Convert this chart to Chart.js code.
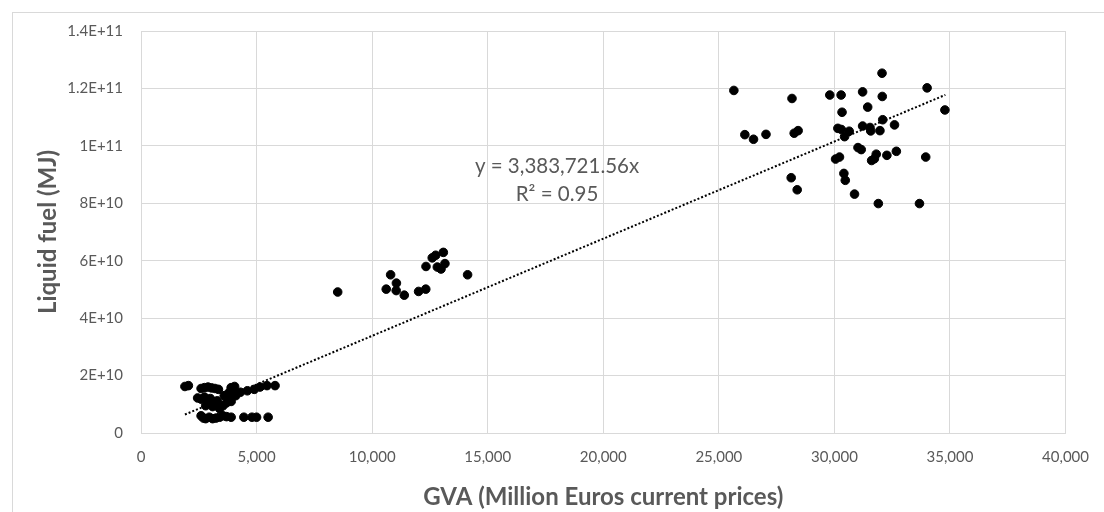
<!DOCTYPE html>
<html>
<head>
<meta charset="utf-8">
<script src="https://cdn.jsdelivr.net/npm/chart.js@4"></script>
<style>
  html, body { margin: 0; padding: 0; background: #fff; }
  #frame {
    position: absolute; left: 12px; top: 12px; width: 1100px; height: 510px;
    border: 1px solid #d9d9d9; box-sizing: border-box;
  }
  #wrap { position: absolute; left: 0; top: 0; width: 1104px; height: 512px; }
</style>
</head>
<body>
<div id="frame"></div>
<div id="wrap"><canvas id="chart"></canvas></div>
<script>
// GVA (million euros) and liquid fuel (MJ)
const gvaLow = [1900, 2050, 2600, 2750, 2900, 3050, 3200, 3350, 3900, 4050,
    2450, 2600, 2750, 3000, 3600, 3800, 4000, 4300, 4600, 4900, 5150, 5450, 5800, 3800, 4100,
    2800, 2950, 3100, 3250, 3400, 3550, 3700, 3900, 3300,
    2600, 2700, 2800, 2950, 3100, 3250, 3400, 3550, 3700, 3900, 4450, 4800, 5000, 5500];
const fuelLow = [1.62e10, 1.65e10, 1.55e10, 1.58e10, 1.6e10, 1.57e10, 1.55e10, 1.52e10, 1.58e10, 1.62e10,
    1.22e10, 1.18e10, 1.25e10, 1.2e10, 1.3e10, 1.4e10, 1.45e10, 1.42e10, 1.47e10, 1.52e10, 1.6e10, 1.65e10, 1.65e10, 1.2e10, 1.3e10,
    0.95e10, 1.05e10, 0.92e10, 1.0e10, 0.85e10, 0.95e10, 1.05e10, 1.1e10, 1.12e10,
    0.6e10, 0.52e10, 0.5e10, 0.55e10, 0.5e10, 0.52e10, 0.55e10, 0.6e10, 0.57e10, 0.55e10, 0.55e10, 0.55e10, 0.55e10, 0.55e10];

const gvaMid = [8510, 10800, 11050, 10610, 11040, 11390, 12010, 12320, 12330, 12600, 12750, 13080, 12820, 12980, 13150, 14130];
const fuelMid = [4.91e10, 5.51e10, 5.22e10, 5.01e10, 4.96e10, 4.80e10, 4.93e10, 5.01e10, 5.80e10, 6.10e10, 6.19e10, 6.29e10, 5.78e10, 5.71e10, 5.90e10, 5.51e10];

const gvaHigh = [25650, 28165, 26125, 26500, 27040, 28260, 28430, 28130, 28390,
    32060, 34010, 29800, 30290, 31220, 32070, 31440, 30330, 34780, 32090, 32600,
    30150, 30300, 30640, 30440, 31220, 31540, 31570, 31970, 31020, 31160, 30050,
    30220, 31810, 31610, 31730, 32270, 32680, 33950, 30410, 30470, 30870, 31900, 33680];
const fuelHigh = [11.93e10, 11.65e10, 10.39e10, 10.23e10, 10.40e10, 10.44e10, 10.53e10, 8.89e10, 8.47e10,
    12.53e10, 12.02e10, 11.77e10, 11.77e10, 11.88e10, 11.72e10, 11.35e10, 11.17e10, 11.25e10, 10.91e10, 10.73e10,
    10.61e10, 10.57e10, 10.51e10, 10.32e10, 10.69e10, 10.64e10, 10.52e10, 10.53e10, 9.94e10, 9.87e10, 9.54e10,
    9.61e10, 9.71e10, 9.49e10, 9.55e10, 9.67e10, 9.81e10, 9.61e10, 9.04e10, 8.80e10, 8.32e10, 7.99e10, 7.99e10];

// linear trendline through the origin, as printed on the chart
const trendSlope = 3383721.56;
const trendRange = [1900, 34800];
const trendLabel = ['y = 3,383,721.56x', 'R² = 0.95'];

const yTickLabels = ['0', '2E+10', '4E+10', '6E+10', '8E+10', '1E+11', '1.2E+11', '1.4E+11'];

const gva = gvaLow.concat(gvaMid, gvaHigh);
const fuel = fuelLow.concat(fuelMid, fuelHigh);

const textColor = '#595959';
const gridColor = '#d9d9d9';

// draws the trendline equation text
const equationPlugin = {
    id: 'equation',
    afterDatasetsDraw(chart) {
        const ctx = chart.ctx;
        const x = chart.scales.x.getPixelForValue(18000);
        const y = chart.scales.y.getPixelForValue(9.28e10);
        ctx.save();
        ctx.fillStyle = textColor;
        ctx.font = '20.5px Lato';
        ctx.textAlign = 'center';
        ctx.textBaseline = 'middle';
        ctx.fillText(trendLabel[0], x, y);
        ctx.fillText(trendLabel[1], x, y + 28);
        ctx.restore();
    }
};

new Chart(document.getElementById('chart'), {
    type: 'scatter',
    data: {
        datasets: [
            {
                label: 'Liquid fuel',
                data: gva.map((g, i) => ({ x: g, y: fuel[i] })),
                backgroundColor: '#000',
                borderColor: '#000',
                pointRadius: 4.3,
                pointHoverRadius: 4.3,
                order: 2
            },
            {
                label: 'Trend',
                type: 'line',
                data: trendRange.map(g => ({ x: g, y: g * trendSlope })),
                borderColor: '#000',
                borderWidth: 2,
                borderDash: [2, 2],
                pointRadius: 0,
                fill: false,
                order: 1
            }
        ]
    },
    options: {
        responsive: true,
        maintainAspectRatio: false,
        animation: false,
        layout: { padding: { left: 0, top: 31, right: 28, bottom: 0 } },
        plugins: {
            legend: { display: false },
            tooltip: { enabled: false }
        },
        scales: {
            x: {
                type: 'linear',
                min: 0, max: 40000,
                ticks: {
                    stepSize: 5000,
                    color: textColor,
                    font: { family: 'Lato', size: 15 },
                    padding: 15,
                    maxRotation: 0,
                    callback: v => v.toLocaleString('en-US')
                },
                grid: { color: gridColor, drawTicks: false },
                border: { color: gridColor },
                title: {
                    display: true,
                    text: 'GVA (Million Euros current prices)',
                    color: textColor,
                    font: { family: 'Lato', size: 24, weight: 'bold' },
                    padding: { top: 6, bottom: 0 }
                },
                afterFit: s => { s.height = 79; }
            },
            y: {
                min: 0, max: 1.4e11,
                ticks: {
                    stepSize: 2e10,
                    color: textColor,
                    font: { family: 'Lato', size: 15 },
                    padding: 18,
                    callback: (v, i) => yTickLabels[i]
                },
                grid: { color: gridColor, drawTicks: false },
                border: { color: gridColor },
                title: {
                    display: true,
                    text: 'Liquid fuel (MJ)',
                    color: textColor,
                    font: { family: 'Lato', size: 24, weight: 'bold' },
                    padding: { top: 34, bottom: 0 }
                },
                afterFit: s => { s.width = 141; }
            }
        }
    },
    plugins: [equationPlugin]
});
</script>
</body>
</html>
